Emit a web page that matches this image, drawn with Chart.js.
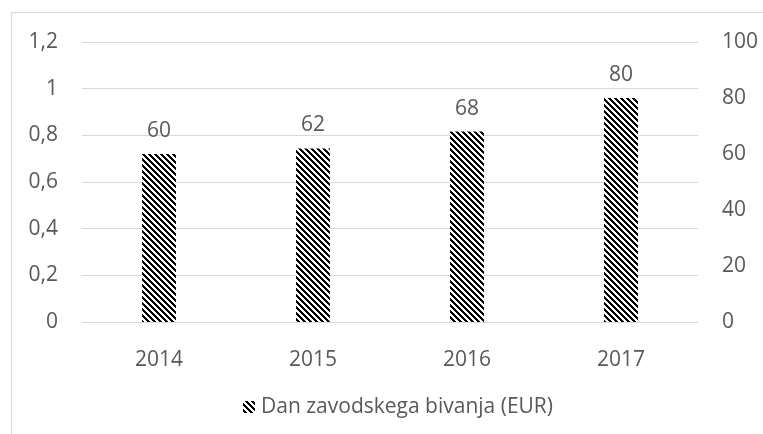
<!DOCTYPE html>
<html>
<head>
<meta charset="utf-8">
<script src="https://cdn.jsdelivr.net/npm/chart.js@4"></script>
<style>
  html, body { margin: 0; padding: 0; background: #fff; overflow: hidden; }
  #wrap { position: relative; width: 763px; height: 434px; }
  #frame { position: absolute; left: 11px; top: 12px; width: 800px; height: 500px; border: 1px solid #d9d9d9; box-sizing: border-box; }
  #chart { position: absolute; left: 0; top: 0; }
</style>
</head>
<body>
<div id="wrap">
  <div id="frame"></div>
  <canvas id="chart" width="763" height="434"></canvas>
</div>
<script>
// ---- data ----
const YEARS = ["2014", "2015", "2016", "2017"];
const COST = [60, 62, 68, 80];
const SERIES_NAME = "Dan zavodskega bivanja (EUR)";
const LEFT_TICKS = [0, 0.2, 0.4, 0.6, 0.8, 1, 1.2];
const RIGHT_TICKS = [0, 20, 40, 60, 80, 100];

const TEXT = "#595959";
const GRID = "#d9d9d9";
const FONT = "'Open Sans', 'Noto Sans', sans-serif";
const FS = 21;

// diagonal stripe fill (black / white)
function stripes() {
  const n = 6;
  const c = document.createElement("canvas");
  c.width = n; c.height = n;
  const g = c.getContext("2d");
  g.fillStyle = "#fff";
  g.fillRect(0, 0, n, n);
  g.fillStyle = "#000";
  for (let y = 0; y < n; y++) {
    for (let x = 0; x < n; x++) {
      if (((x - y) % n + n) % n < 3) g.fillRect(x, y, 1, 1);
    }
  }
  return g.createPattern(c, "repeat");
}
const pat = stripes();

// value labels above bars + legend line at the bottom
const extras = {
  id: "extras",
  afterDatasetsDraw(chart) {
    const ctx = chart.ctx;
    const meta = chart.getDatasetMeta(0);
    ctx.save();
    ctx.font = FS + "px " + FONT;
    ctx.fillStyle = TEXT;
    ctx.textAlign = "center";
    ctx.textBaseline = "alphabetic";
    meta.data.forEach((bar, i) => {
      ctx.fillText(String(COST[i]), bar.x, bar.y - 17);
    });

    // legend
    ctx.fillStyle = pat;
    ctx.fillRect(243, 401, 12, 12);
    ctx.fillStyle = TEXT;
    ctx.textAlign = "left";
    ctx.textBaseline = "middle";
    ctx.fillText(chart.data.datasets[0].label, 261, 407);
    ctx.restore();
  }
};

new Chart(document.getElementById("chart"), {
  type: "bar",
  data: {
    labels: YEARS,
    datasets: [{
      label: SERIES_NAME,
      data: COST,
      yAxisID: "y1",
      backgroundColor: pat,
      borderWidth: 0,
      categoryPercentage: 1,
      barPercentage: 0.22
    }]
  },
  options: {
    responsive: false,
    animation: false,
    layout: { padding: { top: 42, bottom: 42, left: 0, right: 0 } },
    plugins: {
      tooltip: { enabled: false },
      legend: { display: false }
    },
    scales: {
      x: {
        grid: { display: false },
        border: { display: false },
        ticks: { color: TEXT, font: { family: FONT, size: FS }, padding: 17 },
        afterFit(s) { s.height = 70; }
      },
      y: {
        position: "left",
        min: 0, max: 1.2,
        afterBuildTicks(s) { s.ticks = LEFT_TICKS.map(v => ({ value: v })); },
        grid: { color: GRID, drawTicks: false },
        border: { display: false },
        ticks: {
          color: TEXT, font: { family: FONT, size: FS }, padding: 24,
          callback: v => String(Number(v.toFixed(1))).replace(".", ",")
        },
        afterFit(s) { s.width = 82; }
      },
      y1: {
        position: "right",
        min: 0, max: 100,
        afterBuildTicks(s) { s.ticks = RIGHT_TICKS.map(v => ({ value: v })); },
        grid: { display: false, drawTicks: false },
        border: { display: false },
        ticks: { color: TEXT, font: { family: FONT, size: FS }, padding: 24 },
        afterFit(s) { s.width = 65; }
      }
    }
  },
  plugins: [extras]
});
</script>
</body>
</html>
